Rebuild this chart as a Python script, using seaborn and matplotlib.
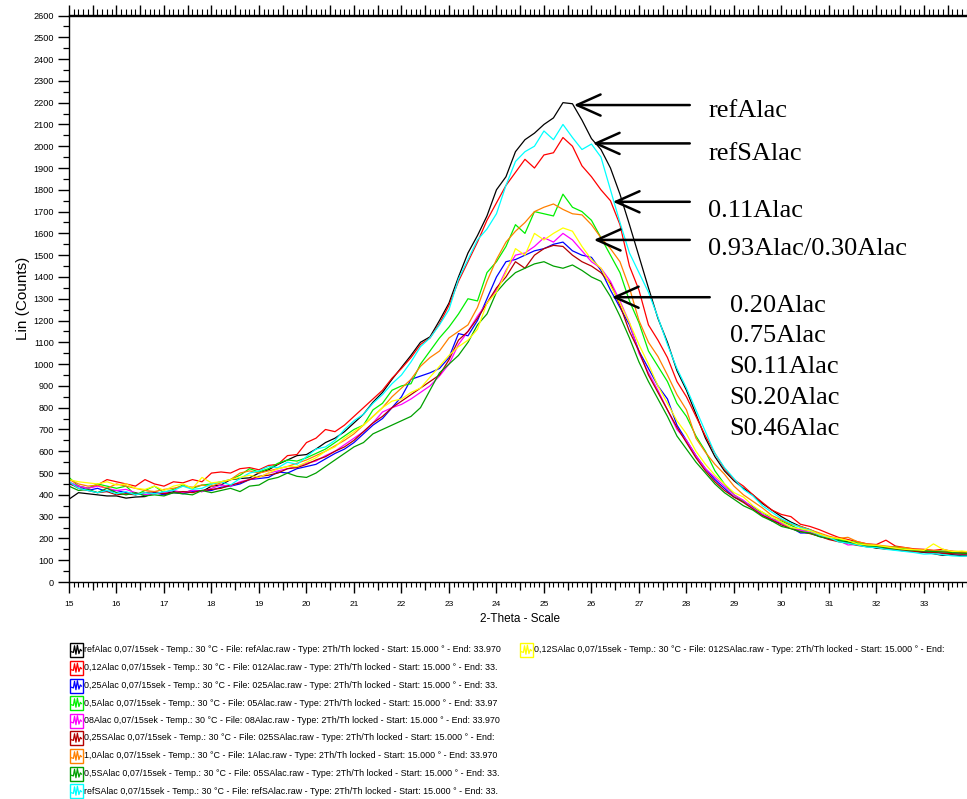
import numpy as np
import pandas as pd
import matplotlib
matplotlib.use("Agg")
import matplotlib.pyplot as plt
from matplotlib.ticker import MultipleLocator
from matplotlib.patches import Rectangle
from matplotlib.lines import Line2D
import seaborn as sns

# ---------------------------------------------------------------- data
# 2-theta positions (degrees), 0.2 deg steps
two_theta = np.round(np.arange(15.0, 34.0 + 1e-9, 0.2), 2)

ref_alac = [
    380, 410, 405, 400, 395,
    395, 385, 390, 392, 410,
    405, 415, 410, 420, 415,
    440, 445, 470, 475, 478,
    500, 515, 540, 560, 580,
    585, 610, 640, 660, 690,
    730, 770, 825, 870, 930,
    985, 1040, 1100, 1125, 1200,
    1280, 1400, 1510, 1590, 1680,
    1800, 1860, 1975, 2030, 2060,
    2100, 2130, 2200, 2195, 2120,
    2035, 1985, 1900, 1780, 1640,
    1495, 1350, 1210, 1100, 970,
    880, 770, 660, 575, 510,
    465, 430, 400, 360, 330,
    300, 275, 255, 240, 220,
    200, 190, 185, 175, 165,
    155, 152, 148, 142, 140,
    136, 130, 122, 125, 120,
    122]

alac_012 = [
    450, 440, 430, 445, 470,
    460, 450, 440, 470, 450,
    440, 460, 455, 470, 460,
    500, 505, 500, 520, 525,
    515, 535, 540, 580, 585,
    640, 660, 700, 690, 720,
    760, 800, 840, 880, 935,
    980, 1030, 1090, 1120, 1185,
    1270, 1380, 1470, 1560, 1660,
    1740, 1820, 1880, 1940, 1900,
    1960, 1970, 2040, 2000, 1910,
    1860, 1800, 1750, 1640, 1450,
    1340, 1180, 1110, 1030, 920,
    850, 760, 670, 590, 520,
    470, 440, 400, 365, 330,
    310, 300, 265, 255, 240,
    222, 205, 195, 185, 175,
    172, 192, 165, 158, 152,
    150, 145, 150, 140, 135,
    138]

alac_025 = [
    450, 440, 420, 430, 415,
    420, 410, 405, 400, 410,
    400, 410, 405, 415, 420,
    420, 435, 440, 450, 470,
    475, 480, 505, 500, 520,
    530, 540, 565, 590, 610,
    640, 680, 720, 750, 800,
    850, 930, 945, 960, 980,
    1030, 1140, 1130, 1200, 1300,
    1400, 1470, 1480, 1500, 1520,
    1530, 1550, 1560, 1520, 1500,
    1490, 1430, 1340, 1260, 1180,
    1060, 980, 900, 840, 720,
    650, 580, 520, 470, 430,
    390, 370, 345, 310, 280,
    270, 250, 225, 225, 210,
    198, 188, 180, 170, 165,
    160, 155, 152, 148, 145,
    140, 138, 132, 130, 128,
    130]

alac_05 = [
    480, 440, 430, 450, 440,
    430, 440, 400, 420, 440,
    410, 425, 445, 430, 445,
    450, 460, 470, 490, 520,
    505, 520, 545, 560, 555,
    570, 590, 610, 640, 670,
    700, 720, 790, 820, 880,
    900, 910, 1000, 1060, 1120,
    1170, 1230, 1300, 1290, 1420,
    1470, 1540, 1640, 1600, 1700,
    1690, 1680, 1780, 1720, 1700,
    1660, 1580, 1500, 1420, 1290,
    1190, 1060, 990, 920, 820,
    760, 670, 600, 510, 450,
    400, 370, 340, 320, 290,
    280, 260, 240, 235, 215,
    205, 195, 188, 180, 172,
    165, 160, 162, 152, 148,
    145, 140, 142, 138, 140,
    135]

alac_08 = [
    460, 440, 430, 440, 430,
    420, 425, 410, 400, 405,
    410, 420, 410, 420, 415,
    430, 445, 440, 460, 470,
    480, 500, 510, 520, 530,
    545, 555, 580, 600, 630,
    660, 690, 730, 780, 800,
    815, 840, 870, 900, 945,
    1000, 1090, 1150, 1220, 1280,
    1340, 1430, 1500, 1510, 1540,
    1580, 1560, 1600, 1570, 1520,
    1470, 1440, 1380, 1290, 1190,
    1050, 960, 880, 790, 700,
    650, 580, 520, 480, 440,
    400, 375, 340, 310, 290,
    270, 248, 238, 228, 212,
    200, 190, 170, 172, 165,
    160, 158, 150, 148, 142,
    140, 138, 135, 132, 130,
    132]

salac_025 = [
    455, 430, 420, 410, 415,
    400, 405, 400, 410, 415,
    405, 410, 415, 410, 420,
    425, 430, 445, 455, 470,
    485, 490, 500, 520, 525,
    540, 560, 575, 600, 620,
    650, 690, 730, 760, 800,
    830, 860, 890, 920, 950,
    1020, 1110, 1150, 1210, 1280,
    1350, 1400, 1470, 1440, 1500,
    1530, 1545, 1540, 1500, 1470,
    1450, 1420, 1370, 1270, 1150,
    1060, 950, 870, 790, 710,
    640, 570, 510, 460, 420,
    390, 365, 335, 305, 285,
    262, 245, 232, 222, 210,
    195, 185, 178, 168, 162,
    158, 152, 150, 145, 140,
    138, 136, 132, 130, 128,
    128]

alac_10 = [
    470, 450, 440, 445, 430,
    450, 440, 430, 420, 415,
    425, 430, 440, 435, 445,
    440, 455, 470, 500, 510,
    500, 510, 520, 530, 545,
    560, 580, 600, 625, 650,
    680, 720, 760, 800, 850,
    890, 930, 990, 1030, 1060,
    1120, 1150, 1180, 1260, 1380,
    1480, 1560, 1610, 1650, 1700,
    1720, 1735, 1710, 1690, 1685,
    1640, 1580, 1530, 1470, 1350,
    1200, 1100, 1035, 950, 860,
    790, 660, 595, 540, 495,
    440, 400, 370, 340, 305,
    285, 265, 255, 240, 225,
    210, 200, 205, 185, 175,
    170, 165, 160, 158, 150,
    148, 145, 140, 142, 138,
    140]

salac_05 = [
    440, 420, 425, 410, 430,
    410, 400, 410, 395, 400,
    395, 410, 405, 400, 420,
    410, 420, 430, 415, 440,
    445, 470, 480, 500, 485,
    480, 500, 530, 560, 590,
    620, 640, 680, 700, 720,
    740, 760, 800, 880, 960,
    1000, 1040, 1100, 1180, 1230,
    1330, 1380, 1420, 1440, 1460,
    1470, 1450, 1440, 1455, 1430,
    1400, 1380, 1310, 1220, 1120,
    1010, 920, 840, 760, 670,
    610, 550, 500, 450, 410,
    380, 350, 330, 300, 280,
    255, 245, 230, 225, 208,
    200, 190, 180, 172, 165,
    162, 158, 152, 148, 145,
    142, 140, 138, 135, 132,
    130]

ref_salac = [
    460, 430, 420, 410, 420,
    405, 415, 400, 410, 405,
    415, 420, 440, 425, 430,
    450, 460, 445, 475, 500,
    510, 530, 525, 550, 540,
    575, 610, 620, 650, 700,
    740, 770, 820, 860, 910,
    950, 1010, 1080, 1120, 1180,
    1250, 1390, 1480, 1570, 1620,
    1690, 1820, 1930, 1975, 2000,
    2070, 2030, 2100, 2040, 1985,
    2010, 1950, 1800, 1650, 1510,
    1420, 1330, 1215, 1090, 980,
    890, 790, 690, 590, 525,
    475, 425, 395, 350, 320,
    290, 270, 250, 238, 215,
    205, 185, 178, 170, 160,
    158, 150, 145, 140, 135,
    128, 130, 125, 120, 118,
    120]

salac_012 = [
    470, 460, 455, 450, 460,
    445, 450, 430, 425, 440,
    420, 440, 450, 430, 480,
    455, 460, 470, 480, 490,
    480, 500, 520, 530, 530,
    550, 570, 600, 620, 660,
    690, 720, 760, 800, 830,
    840, 870, 890, 940, 990,
    1040, 1080, 1110, 1160, 1280,
    1330, 1420, 1530, 1500, 1600,
    1570, 1600, 1625, 1610, 1540,
    1480, 1440, 1360, 1280, 1190,
    1090, 1000, 900, 820, 740,
    680, 600, 540, 490, 450,
    410, 390, 350, 320, 300,
    275, 250, 245, 235, 220,
    205, 200, 190, 175, 170,
    168, 162, 155, 150, 148,
    145, 175, 150, 140, 142,
    138]

sample_names = ["refAlac", "0,12Alac", "0,25Alac", "0,5Alac", "08Alac",
                "0,25SAlac", "1,0Alac", "0,5SAlac", "refSAlac", "0,12SAlac"]
sample_counts = [ref_alac, alac_012, alac_025, alac_05, alac_08,
                 salac_025, alac_10, salac_05, ref_salac, salac_012]
sample_colors = ["#000000", "#FF0000", "#0000FF", "#00F000", "#FF00FF",
                 "#B40000", "#FF8000", "#00A000", "#00FFFF", "#FFFF00"]
sample_files = ["refAlac", "012Alac", "025Alac", "05Alac", "08Alac",
                "025SAlac", "1Alac", "05SAlac", "refSAlac", "012SAlac"]
# how much of each legend entry's tail stays visible
sample_ends = [" 33.970", " 33.", " 33.", " 33.97", " 33.970",
               "", " 33.970", " 33.", " 33.", ""]

# callout labels: text, arrow tip (2theta, counts), tail 2theta, text x, text baseline
callouts = [
    ("refAlac", (25.63, 2189), 28.07, 28.46, 2134),
    ("refSAlac", (26.03, 2013), 28.07, 28.46, 1937),
    ("0.11Alac", (26.45, 1745), 28.07, 28.46, 1677),
    ("0.93Alac/0.30Alac", (26.05, 1570), 28.07, 28.46, 1501),
    ("0.20Alac", (26.43, 1307), 28.49, 28.91, 1241),
]
extra_labels = ["0.75Alac", "S0.11Alac", "S0.20Alac", "S0.46Alac"]
extra_baselines = [1101, 959, 817, 675]

# ---------------------------------------------------------------- frame
records = []
for name, vals in zip(sample_names, sample_counts):
    n = min(len(vals), len(two_theta))
    records.append(pd.DataFrame({"two_theta": two_theta[:n],
                                 "counts": vals[:n],
                                 "sample": name}))
df = pd.concat(records, ignore_index=True)
palette = dict(zip(sample_names, sample_colors))

W, H = 967, 799
fig = plt.figure(figsize=(W / 100, H / 100), dpi=100)
fig.patch.set_facecolor("white")

ax_left, ax_right, ax_top, ax_bottom = 69, 970, 15.5, 582
ax = fig.add_axes([ax_left / W, 1 - ax_bottom / H,
                   (ax_right - ax_left) / W, (ax_bottom - ax_top) / H])

sns.lineplot(data=df, x="two_theta", y="counts", hue="sample",
             hue_order=sample_names, palette=palette, estimator=None,
             sort=False, legend=False, linewidth=0.9, ax=ax)

ax.set_xlim(15, 33.97)
ax.set_ylim(0, 2600)

sans = ["Liberation Sans", "DejaVu Sans"]
ax.xaxis.set_major_locator(MultipleLocator(1))
ax.xaxis.set_minor_locator(MultipleLocator(0.1))
ax.yaxis.set_major_locator(MultipleLocator(100))
ax.yaxis.set_minor_locator(MultipleLocator(50))
ax.tick_params(axis="x", which="major", length=8, width=1.0, pad=6,
               labelsize=6, direction="out")
ax.tick_params(axis="x", which="minor", length=3.5, width=0.8, direction="out")
ax.tick_params(axis="y", which="major", length=8, width=1.0, pad=3,
               labelsize=6.6, direction="out")
ax.tick_params(axis="y", which="minor", length=4.5, width=0.9, direction="out")
for lab in ax.get_xticklabels() + ax.get_yticklabels():
    lab.set_family(sans)

# half-degree ticks at the bottom
half = ax.secondary_xaxis("bottom")
half.set_xticks(np.arange(15.5, 34, 1.0))
half.tick_params(length=5.5, width=0.9, labelbottom=False)
half.spines["bottom"].set_visible(False)

# scale ticks along the top edge
top = ax.secondary_xaxis("top")
top.xaxis.set_major_locator(MultipleLocator(0.5))
top.xaxis.set_minor_locator(MultipleLocator(0.1))
top.tick_params(which="major", length=7, width=1.0, labeltop=False, direction="out")
top.tick_params(which="minor", length=4, width=0.8, direction="out")
top.spines["top"].set_linewidth(1.0)

for side in ["left", "bottom", "top"]:
    ax.spines[side].set_linewidth(1.0)
ax.spines["right"].set_visible(False)

ax.set_ylabel("Lin (Counts)", fontsize=11, family=sans, labelpad=2)
ax.set_xlabel("2-Theta - Scale", fontsize=8.5, family=sans, labelpad=3)

# ---------------------------------------------------------------- callouts
serif = ["Liberation Serif", "DejaVu Serif"]
for text, tip, tail_x, tx, ty in callouts:
    ax.annotate("", xy=tip, xytext=(tail_x, tip[1]),
                arrowprops=dict(arrowstyle="->,head_length=0.85,head_width=0.38",
                                lw=1.8, color="black", shrinkA=0, shrinkB=0,
                                mutation_scale=20))
    ax.text(tx, ty, text, fontsize=19, family=serif, va="baseline", ha="left")
for text, ty in zip(extra_labels, extra_baselines):
    ax.text(28.91, ty, text, fontsize=19, family=serif, va="baseline", ha="left")

# ---------------------------------------------------------------- legend
legend_font = ["Liberation Sans", "DejaVu Sans"]
zig = [(0.05, 0.35), (0.22, 0.3), (0.32, 0.85), (0.45, 0.15), (0.58, 0.9),
       (0.72, 0.2), (0.85, 0.55), (0.95, 0.45)]


def legend_entry(x_box, y_mid, color, text):
    bw, bh = 13, 14
    fx = lambda px: px / W
    fy = lambda py: 1 - py / H
    fig.patches.append(Rectangle((fx(x_box), fy(y_mid + bh / 2)), bw / W, bh / H,
                                 transform=fig.transFigure, fill=False,
                                 edgecolor=color, linewidth=1.0))
    xs = [fx(x_box + 1 + u * (bw - 2)) for u, _ in zig]
    ys = [fy(y_mid + bh / 2 - 1 - v * (bh - 2)) for _, v in zig]
    fig.lines.append(Line2D(xs, ys, transform=fig.transFigure, color=color, lw=0.9))
    fig.text(fx(x_box + bw + 1.5), fy(y_mid), text, fontsize=6.4,
             family=legend_font, va="center", ha="left")


def entry_text(i):
    return (f"{sample_names[i]} 0,07/15sek - Temp.: 30 \u00b0C - File: "
            f"{sample_files[i]}.raw - Type: 2Th/Th locked - Start: 15.000 \u00b0 - End:"
            f"{sample_ends[i]}")


row_y = [650, 668, 685.5, 703, 720.5, 738, 756, 773.5, 791]
for i, y in enumerate(row_y):
    legend_entry(70, y, sample_colors[i], entry_text(i))
legend_entry(520, 650, sample_colors[9], entry_text(9))

fig.savefig("out.png", dpi=100, facecolor="white")
